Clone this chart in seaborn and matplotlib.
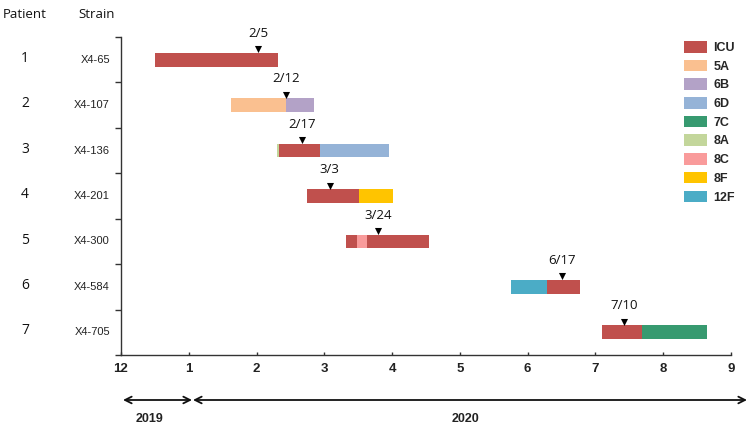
import matplotlib
matplotlib.use("Agg")
import matplotlib.pyplot as plt
import seaborn as sns
import pandas as pd
from matplotlib.patches import Patch
from matplotlib.transforms import blended_transform_factory

# ---------------- data ----------------
patients = ["1", "2", "3", "4", "5", "6", "7"]
strains = ["X4-65", "X4-107", "X4-136", "X4-201", "X4-300", "X4-584", "X4-705"]

categories = ["ICU", "5A", "6B", "6D", "7C", "8A", "8C", "8F", "12F"]
cat_colors = ["#C0504D", "#FAC090", "#B3A2C7", "#95B3D7", "#379A70",
              "#C3D69B", "#F99B9B", "#FFC400", "#4BACC6"]

# segments (months since Dec 1 2019; tick "12"=0, "1"=1, ...)
seg_patient = [1, 2, 2, 3, 3, 3, 4, 4, 5, 5, 5, 6, 6, 7, 7]
seg_category = ["ICU", "5A", "6B", "8A", "ICU", "6D", "ICU", "8F",
                "ICU", "8C", "ICU", "12F", "ICU", "ICU", "7C"]
seg_start = [0.50, 1.62, 2.43, 2.30, 2.33, 2.94, 2.74, 3.51,
             3.32, 3.48, 3.63, 5.75, 6.28, 7.09, 7.68]
seg_end = [2.32, 2.43, 2.85, 2.33, 2.94, 3.95, 3.51, 4.01,
           3.48, 3.63, 4.54, 6.28, 6.77, 7.68, 8.64]

marker_pos = [2.02, 2.43, 2.67, 3.08, 3.79, 6.51, 7.42]
marker_label = ["2/5", "2/12", "2/17", "3/3", "3/24", "6/17", "7/10"]

xtick_labels = ["12", "1", "2", "3", "4", "5", "6", "7", "8", "9"]
years = ["2019", "2020"]

# ---------------- figure ----------------
sns.set_theme(style="white")
plt.rcParams["font.family"] = ["Liberation Sans", "DejaVu Sans"]

W, H = 752, 430
fig = plt.figure(figsize=(W / 100, H / 100), dpi=100)
ax = fig.add_axes([121 / W, 1 - 355 / H, 610 / W, 318 / H])

color_map = dict(zip(categories, cat_colors))
seg_df = pd.DataFrame({"patient": seg_patient, "category": seg_category,
                       "start": seg_start, "end": seg_end})
seg_df["y"] = seg_df["patient"] - 0.5
seg_df["width"] = seg_df["end"] - seg_df["start"]

ax.barh(seg_df["y"], seg_df["width"], left=seg_df["start"], height=0.30,
        color=[color_map[c] for c in seg_df["category"]],
        edgecolor="none", zorder=2)

mk_df = pd.DataFrame({"x": marker_pos,
                      "y": [i + 0.5 - 0.23 for i in range(len(patients))]})
sns.scatterplot(data=mk_df, x="x", y="y", marker="v", s=26, color="black",
                edgecolor="black", linewidth=0, ax=ax, zorder=3, legend=False)
for i, (xp, lab) in enumerate(zip(marker_pos, marker_label)):
    ax.text(xp, i + 0.5 - 0.58, lab, ha="center", va="center",
            fontsize=9.5, family=["Open Sans", "DejaVu Sans"], color="#111111")

ax.set_xlim(0, 9)
ax.set_ylim(7, 0)
ax.set_xticks(range(10))
ax.set_xticklabels(xtick_labels, fontsize=9.5, fontweight="bold", color="#222222")
ax.set_yticks(range(8))
ax.set_yticklabels([])
ax.set_xlabel("")
ax.set_ylabel("")
for s in ["top", "right"]:
    ax.spines[s].set_visible(False)
for s in ["left", "bottom"]:
    ax.spines[s].set_color("#333333")
    ax.spines[s].set_linewidth(1.0)
ax.tick_params(axis="x", direction="in", length=2, width=1.0, color="#333333", pad=6)
ax.tick_params(axis="y", direction="out", length=4, width=1.0, color="#333333", left=True)
ax.tick_params(axis="x", bottom=True)

# row labels
tr = blended_transform_factory(fig.transFigure, ax.transData)
for i, (p, s) in enumerate(zip(patients, strains)):
    ax.text(25 / W, i + 0.5 - 0.03, p, transform=tr, ha="center", va="center",
            fontsize=10, family=["Open Sans", "DejaVu Sans"], color="#111111")
    ax.text(110 / W, i + 0.5, s, transform=tr, ha="right", va="center",
            fontsize=8, color="#222222")

fig.text(25 / W, 1 - 15 / H, "Patient", ha="center", va="center",
         fontsize=9.5, family=["Open Sans", "DejaVu Sans"], color="#111111")
fig.text(97 / W, 1 - 15 / H, "Strain", ha="center", va="center",
         fontsize=9.5, family=["Open Sans", "DejaVu Sans"], color="#111111")

# legend
handles = [Patch(facecolor=c, edgecolor="none") for c in cat_colors]
fig.legend(handles, categories, loc="upper left",
           bbox_to_anchor=(684 / W, 1 - 41 / H), frameon=False,
           prop={"size": 9, "weight": "bold", "family": "Liberation Sans"},
           handlelength=1.85, handleheight=1.05, handletextpad=0.5,
           labelspacing=0.45, borderpad=0, borderaxespad=0)

# year arrows
def fp(x, y):
    return (x / W, 1 - y / H)

arrow_kw = dict(arrowstyle="<->", color="#111111", lw=1.3,
                mutation_scale=12, shrinkA=0, shrinkB=0)
fig.add_artist(matplotlib.patches.FancyArrowPatch(fp(123, 400), fp(192, 400),
                                                  transform=fig.transFigure, **arrow_kw))
fig.add_artist(matplotlib.patches.FancyArrowPatch(fp(193, 400), fp(747, 400),
                                                  transform=fig.transFigure, **arrow_kw))
fig.text(*fp(150, 419), years[0], ha="center", va="center", fontsize=9,
         fontweight="bold", color="#222222")
fig.text(*fp(465, 419), years[1], ha="center", va="center", fontsize=9,
         fontweight="bold", color="#222222")

fig.savefig("out.png", dpi=100)
